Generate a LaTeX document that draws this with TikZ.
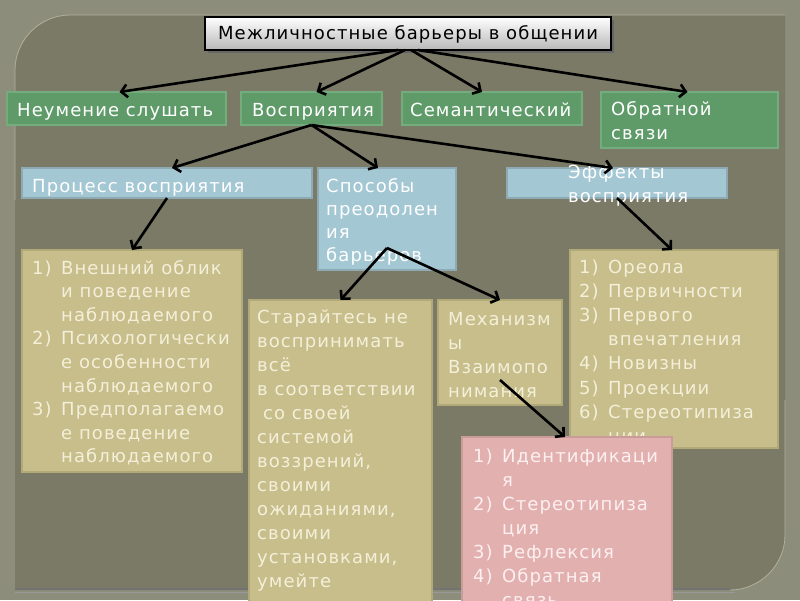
\documentclass[tikz,border=0pt]{standalone}
\usepackage{fontspec}
\setmainfont{DejaVu Sans}[LetterSpace=6]
\usetikzlibrary{arrows.meta}
\definecolor{outerbg}{HTML}{8D8D7B}
\definecolor{panel}{HTML}{7A7A67}
\definecolor{panelline}{HTML}{B0B09C}
\definecolor{gfill}{HTML}{5F9B69}
\definecolor{gline}{HTML}{74AC7E}
\definecolor{bfill}{HTML}{A4C7D4}
\definecolor{bline}{HTML}{8DAAB5}
\definecolor{yfill}{HTML}{C7BE8C}
\definecolor{yline}{HTML}{B2A979}
\definecolor{pfill}{HTML}{E3B0B0}
\definecolor{pline}{HTML}{C99C9A}
\definecolor{ytext}{HTML}{F4EFD8}
\definecolor{ptext}{HTML}{FCF0F0}
\newcommand\itm[1]{\makebox[29pt][l]{#1}}
\newcommand\cnt{\hspace*{29pt}}
\newcommand\tl[1]{\begin{tabular}[t]{@{}l@{}}#1\end{tabular}}
\begin{document}
\begin{tikzpicture}[x=1pt,y=-1pt,
  box/.style={anchor=north west, inner sep=0pt, outer sep=0pt, line width=1.5pt},
  gbox/.style={box, fill=gfill, draw=gline},
  bbox/.style={box, fill=bfill, draw=bline},
  ybox/.style={box, fill=yfill, draw=yline},
  pbox/.style={box, fill=pfill, draw=pline},
  txt/.style={anchor=base west, inner sep=0pt, font=\fontsize{18}{24}\selectfont},
  arr/.style={line width=2.6pt, draw=black, -{Straight Barb[length=6pt,width=13pt]}}
]
\useasboundingbox (0,0) rectangle (800,600);
\clip (0,0) rectangle (800,600);
\fill[outerbg] (0,0) rectangle (800,600);
% panel
\fill[panel] (15,590) -- (15,70) .. controls (15,40) and (40,15) .. (70,15) -- (785,15) -- (785,535) .. controls (785,565) and (760,590) .. (730,590) -- cycle;
\draw[panelline, line width=0.8pt] (15,200) -- (15,70) .. controls (15,40) and (40,15) .. (70,15) -- (785,15);
\draw[panelline, line width=0.8pt] (785,400) -- (785,535) .. controls (785,565) and (760,590) .. (730,590);
\draw[black!55, line width=1.2pt] (15,589) -- (730,589);
\draw[black!40, line width=0.8pt] (15,592) -- (735,592);

% title
\fill[black!60] (208,20) rectangle (614,53);
\node[box, draw=black, line width=1.2pt, top color=white, bottom color=black!28, minimum width=406pt, minimum height=33pt] (title) at (205,17) {};
\node[anchor=base, inner sep=0pt, font=\fontsize{18}{24}\selectfont] (titletxt) at (408,39) {Межличностные барьеры в общении};

% green
\node[gbox, minimum width=219pt, minimum height=33pt] (n1) at (7,92) {};
\node[txt, text=white] (n1t) at (17,116) {Неумение слушать};
\node[gbox, minimum width=141pt, minimum height=33pt] (n2) at (241,92) {};
\node[txt, text=white] (n2t) at (252,116) {Восприятия};
\node[gbox, minimum width=180pt, minimum height=33pt] (n3) at (402,92) {};
\node[txt, text=white] (n3t) at (410,116) {Семантический};
\node[gbox, minimum width=177pt, minimum height=56pt] (n4) at (601,92) {};
\node[txt, text=white] (n4t) at (611,115) {\tl{Обратной\\связи}};

% blue
\node[bbox, minimum width=290pt, minimum height=30pt] (p) at (22,168) {};
\node[txt, text=white] (pt) at (32,192) {Процесс восприятия};
\node[bbox, minimum width=138pt, minimum height=102pt] (s) at (318,168) {};
\node[txt, text=white, font=\fontsize{18}{23}\selectfont] (st) at (326,192) {\tl{Способы\\преодолен\\ия\\барьеров}};
\node[bbox, minimum width=220pt, minimum height=30pt] (e) at (507,168) {};
\node[txt, text=white] (et) at (568,178) {\tl{Эффекты\\восприятия}};

% beige
\node[ybox, minimum width=220pt, minimum height=222pt] (a) at (22,250) {};
\node[txt, text=ytext, font=\fontsize{18}{23.6}\selectfont] (at) at (32,274) {\tl{\itm{1)}Внешний облик\\\cnt и поведение\\\cnt наблюдаемого\\\itm{2)}Психологически\\\cnt е особенности\\\cnt наблюдаемого\\\itm{3)}Предполагаемо\\\cnt е поведение\\\cnt наблюдаемого}};
\node[ybox, minimum width=183pt, minimum height=305pt] (b) at (249,300) {};
\node[txt, text=ytext] (bt) at (257,323) {\tl{Старайтесь не\\воспринимать\\всё\\в соответствии\\\hspace*{6pt}со своей\\системой\\воззрений,\\своими\\ожиданиями,\\своими\\установками,\\умейте}};
\node[ybox, minimum width=124pt, minimum height=105pt] (c) at (438,300) {};
\node[txt, text=ytext] (ct) at (448,325) {\tl{Механизм\\ы\\Взаимопо\\нимания}};
\node[ybox, minimum width=208pt, minimum height=198pt] (d) at (570,250) {};
\node[txt, text=ytext, font=\fontsize{18}{24.2}\selectfont] (dt) at (579,273) {\tl{\itm{1)}Ореола\\\itm{2)}Первичности\\\itm{3)}Первого\\\cnt впечатления\\\itm{4)}Новизны\\\itm{5)}Проекции\\\itm{6)}Стереотипиза\\\cnt ции}};
% pink
\node[pbox, minimum width=210pt, minimum height=170pt] (f) at (462,437) {};
\node[txt, text=ptext] (ft) at (473,462) {\tl{\itm{1)}Идентификаци\\\cnt я\\\itm{2)}Стереотипиза\\\cnt ция\\\itm{3)}Рефлексия\\\itm{4)}Обратная\\\cnt связь}};

% arrows
\draw[arr] ([xshift=-10pt]title.south) -- ([xshift=3pt]n1.north);
\draw[arr] ([xshift=-3pt]title.south) -- ([xshift=5pt]n2.north);
\draw[arr] ([xshift=3pt]title.south) -- ([xshift=-10pt]n3.north);
\draw[arr] ([xshift=10pt]title.south) -- ([xshift=-2pt]n4.north);
\draw[arr] (n2.south) -- ([xshift=5pt]p.north);
\draw[arr] (n2.south) -- ([xshift=-9pt]s.north);
\draw[arr] (n2.south) -- ([xshift=-4pt]e.north);
\draw[arr] (p.south) -- (a.north);
\draw[arr] ([yshift=22pt]s.south) -- (b.north);
\draw[arr] ([yshift=22pt]s.south) -- (c.north);
\draw[arr] (e.south) -- ([xshift=-2pt]d.north);
\draw[arr] ([yshift=25pt]c.south) -- ([xshift=-2pt]f.north);
\end{tikzpicture}
\end{document}
